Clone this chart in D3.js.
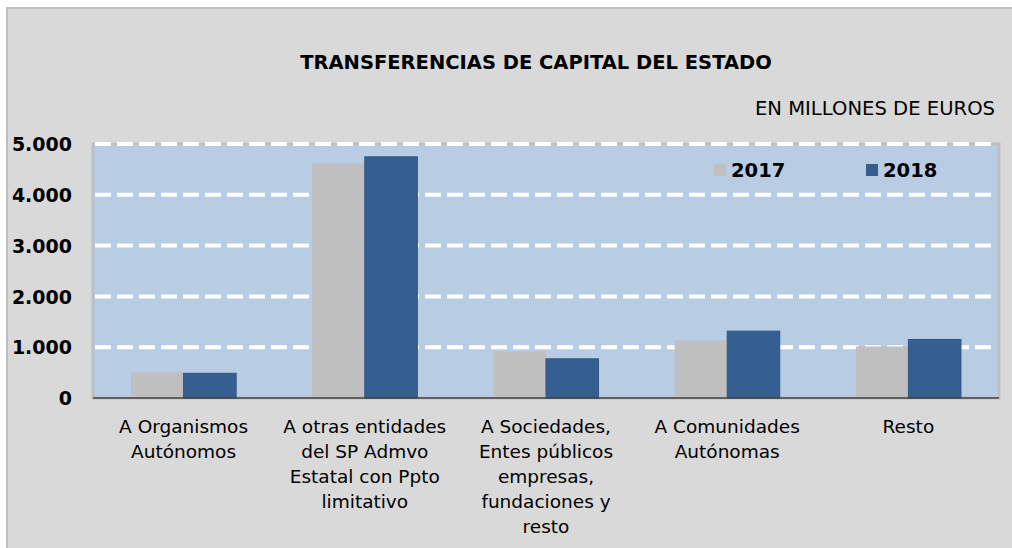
<!DOCTYPE html>
<html>
<head>
<meta charset="utf-8">
<script src="https://cdn.jsdelivr.net/npm/d3@7"></script>
<style>
  body { margin: 0; background: #fff; }
  svg text { font-family: "DejaVu Sans", sans-serif; fill: #000; }
</style>
</head>
<body>
<svg id="chart" width="1012" height="548"></svg>
<script>
const categories = [
  ["A Organismos", "Autónomos"],
  ["A otras entidades", "del SP Admvo", "Estatal con Ppto", "limitativo"],
  ["A Sociedades,", "Entes públicos", "empresas,", "fundaciones y", "resto"],
  ["A Comunidades", "Autónomas"],
  ["Resto"]
];
const series = ["2017", "2018"];
const values2017 = [506, 4615, 915, 1132, 1014];
const values2018 = [486, 4747, 771, 1316, 1152];
const yTicks = [0, 1000, 2000, 3000, 4000, 5000];
const colors = ["#bfbfbf", "#355f91"];

const svg = d3.select("#chart");
const plot = { left: 93, right: 999, top: 144, bottom: 398 };

// outer chart area
svg.append("rect")
  .attr("x", 7).attr("y", 8)
  .attr("width", 1012).attr("height", 548)
  .attr("fill", "#d9d9d9")
  .attr("stroke", "#bfbfbf")
  .attr("stroke-width", 2);

svg.append("text")
  .attr("x", 536).attr("y", 69)
  .attr("text-anchor", "middle")
  .attr("font-weight", "bold")
  .attr("font-size", 19.5)
  .text("TRANSFERENCIAS DE CAPITAL DEL ESTADO");

svg.append("text")
  .attr("x", 995).attr("y", 115)
  .attr("text-anchor", "end")
  .attr("font-size", 19.6)
  .text("EN MILLONES DE EUROS");

const x0 = d3.scaleBand()
  .domain(d3.range(categories.length))
  .range([plot.left, plot.right])
  .paddingInner(0.42)
  .paddingOuter(0.21);

const x1 = d3.scaleBand()
  .domain(series)
  .range([0, x0.bandwidth()]);

const y = d3.scaleLinear()
  .domain([0, 5000])
  .range([plot.bottom, plot.top]);

// plot area
svg.append("rect")
  .attr("x", plot.left).attr("y", plot.top)
  .attr("width", plot.right - plot.left)
  .attr("height", plot.bottom - plot.top)
  .attr("fill", "#b8cce4")
  .attr("stroke", "#bfbfbf")
  .attr("stroke-width", 3);

svg.append("g")
  .selectAll("line")
  .data(yTicks.filter(d => d > 0))
  .join("line")
  .attr("x1", plot.left + 2).attr("x2", plot.right - 2)
  .attr("y1", d => y(d)).attr("y2", d => y(d))
  .attr("stroke", "#fff")
  .attr("stroke-width", 4)
  .attr("stroke-dasharray", "16,6");

const yAxis = svg.append("g")
  .attr("transform", `translate(${plot.left},0)`)
  .call(d3.axisLeft(y).tickValues(yTicks).tickSize(0).tickPadding(21)
    .tickFormat(d => d3.format(",")(d).replace(/,/g, ".")));
yAxis.select(".domain").remove();
yAxis.selectAll("text")
  .attr("font-family", "DejaVu Sans, sans-serif")
  .attr("font-size", 19)
  .attr("font-weight", "bold")
  .attr("dy", "0.35em")
  .attr("fill", "#000");

const groups = svg.append("g")
  .selectAll("g")
  .data(categories.map((c, i) => [values2017[i], values2018[i]]))
  .join("g")
  .attr("transform", (d, i) => `translate(${x0(i)},0)`);

groups.selectAll("rect")
  .data(d => d.map((v, j) => ({ key: series[j], v, j })))
  .join("rect")
  .attr("x", d => x1(d.key))
  .attr("y", d => y(d.v))
  .attr("width", x1.bandwidth())
  .attr("height", d => y(0) - y(d.v))
  .attr("fill", d => colors[d.j])
  .attr("stroke", d => d.j === 1 ? "#2f5682" : "none")
  .attr("stroke-width", 1);

// baseline
svg.append("line")
  .attr("x1", plot.left).attr("x2", plot.right)
  .attr("y1", y(0)).attr("y2", y(0))
  .attr("stroke", "#404040")
  .attr("stroke-width", 1.5);

// category labels
const labels = svg.append("g")
  .selectAll("text")
  .data(categories)
  .join("text")
  .attr("x", (d, i) => x0(i) + x0.bandwidth() / 2)
  .attr("y", 433)
  .attr("text-anchor", "middle")
  .attr("font-size", 18.5);
labels.selectAll("tspan")
  .data(d => d)
  .join("tspan")
  .attr("x", function () { return this.parentNode.getAttribute("x"); })
  .attr("dy", (d, i) => i === 0 ? 0 : 25)
  .text(d => d);

// legend
const legendX = [714, 866];
const legend = svg.append("g")
  .selectAll("g")
  .data(series)
  .join("g")
  .attr("transform", (d, i) => `translate(${legendX[i]},164)`);
legend.append("rect")
  .attr("width", 12).attr("height", 12)
  .attr("fill", (d, i) => colors[i]);
legend.append("text")
  .attr("x", 17).attr("y", 13)
  .attr("font-size", 19.5)
  .attr("font-weight", "bold")
  .text(d => d);
</script>
</body>
</html>
